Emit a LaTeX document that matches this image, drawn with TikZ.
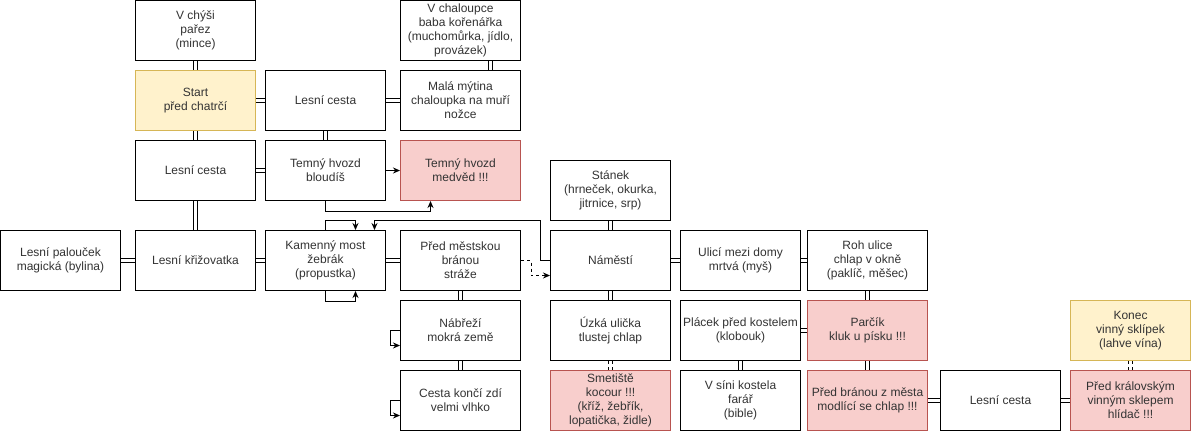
\documentclass[tikz,border=0pt]{standalone}
\usepackage{fontspec}
\setmainfont{Liberation Sans}
\usetikzlibrary{arrows.meta}
\definecolor{yfill}{HTML}{FFF2CC}
\definecolor{ydraw}{HTML}{D6B656}
\definecolor{rfill}{HTML}{F8CECC}
\definecolor{rdraw}{HTML}{B85450}
\definecolor{txt}{HTML}{333333}
\pgfdeclarelayer{background}
\pgfsetlayers{background,main}
\begin{document}
\begin{tikzpicture}[x=1pt,y=-1pt,
  box/.style={draw=black,line width=1pt,rectangle,minimum width=120pt,minimum height=60pt,
    inner sep=0pt,align=center,font=\fontsize{12}{14}\selectfont,text=txt,fill=white},
  startbox/.style={box,fill=yfill,draw=ydraw},
  danger/.style={box,fill=rfill,draw=rdraw},
  link/.style={draw=black,line width=1pt,double=white,double distance=3pt},
  dlink/.style={link,dash pattern=on 3pt off 3pt},
  arr/.style={draw=black,line width=1pt,-{Stealth[length=7pt,width=6pt]}},
]
\useasboundingbox (-0.5,-0.5) rectangle (1190.5,431.5);

% row 0
\node[box] (chysi) at (195,30) {V chýši\\pařez\\(mince)};
\node[box] (chaloupka) at (460,30) {V chaloupce\\baba kořenářka\\(muchomůrka, jídlo,\\provázek)};
% row 1
\node[startbox] (start) at (195,100) {Start\\před chatrčí};
\node[box] (cesta1) at (325,100) {Lesní cesta};
\node[box] (mytina) at (460,100) {Malá mýtina\\chaloupka na muří\\nožce};
% row 2
\node[box] (cesta2) at (195,170) {Lesní cesta};
\node[box] (hvozd) at (325,170) {Temný hvozd\\bloudíš};
\node[danger] (medved) at (460,170) {Temný hvozd\\medvěd !!!};
\node[box] (stanek) at (610,190) {Stánek\\(hrneček, okurka,\\jitrnice, srp)};
% row 3
\node[box] (palou) at (60,260) {Lesní palouček\\magická (bylina)};
\node[box] (krizovatka) at (195,260) {Lesní křižovatka};
\node[box] (most) at (325,260) {Kamenný most\\žebrák\\(propustka)};
\node[box] (brana) at (460,260) {Před městskou\\bránou\\stráže};
\node[box] (namesti) at (610,260) {Náměstí};
\node[box] (ulici) at (740,260) {Ulicí mezi domy\\mrtvá (myš)};
\node[box] (roh) at (867,260) {Roh ulice\\chlap v okně\\(paklíč, měšec)};
% row 4
\node[box] (nabrezi) at (460,330) {Nábřeží\\mokrá země};
\node[box] (ulicka) at (610,330) {Úzká ulička\\tlustej chlap};
\node[box] (placek) at (740,330) {Plácek před kostelem\\(klobouk)};
\node[danger] (parcik) at (867,330) {Parčík\\kluk u písku !!!};
\node[startbox] (konec) at (1130,330) {Konec\\vinný sklípek\\(lahve vína)};
% row 5
\node[box] (zed) at (460,400) {Cesta končí zdí\\velmi vlhko};
\node[danger] (smetiste) at (610,400) {Smetiště\\kocour !!!\\(kříž, žebřík,\\lopatička, židle)};
\node[box] (sini) at (740,400) {V síni kostela\\farář\\(bible)};
\node[danger] (predbranou) at (867,400) {Před bránou z města\\modlící se chlap !!!};
\node[box] (cesta3) at (1000,400) {Lesní cesta};
\node[danger] (kralov) at (1130,400) {Před královským\\vinným sklepem\\hlídač !!!};

\begin{pgfonlayer}{background}
\draw[link] (chysi) -- (start);
\draw[link] (start) -- (cesta1);
\draw[link] (cesta1) -- (mytina);
\draw[link] ([xshift=30pt]chaloupka.south) -- ([xshift=30pt]mytina.north);
\draw[link] (start) -- (cesta2);
\draw[link] (cesta1) -- (hvozd);
\draw[link] (cesta2) -- (hvozd);
\draw[link] (cesta2) -- (krizovatka);
\draw[link] (palou) -- (krizovatka);
\draw[link] (krizovatka) -- (most);
\draw[link] (most) -- (brana);
\draw[link] (brana) -- (nabrezi);
\draw[link] (nabrezi) -- (zed);
\draw[link] (stanek) -- (namesti);
\draw[link] (namesti) -- (ulicka);
\draw[link] (namesti) -- (ulici);
\draw[link] (ulici) -- (roh);
\draw[link] (roh) -- (parcik);
\draw[link] (placek) -- (parcik);
\draw[link] (placek) -- (sini);
\draw[link] (parcik) -- (predbranou);
\draw[link] (predbranou) -- (cesta3);
\draw[link] (cesta3) -- (kralov);
\draw[dlink] (ulicka) -- (smetiste);
\draw[dlink] (konec) -- (kralov);
\end{pgfonlayer}

\draw[arr] (hvozd) -- (medved);
\draw[arr] (hvozd.south) -- ++(0,10) -| ([xshift=-30pt]medved.south);
\draw[arr] (most.north) -- ++(0,-10) -| ([xshift=30pt]most.north);
\draw[arr] (namesti.west) -- ++(-10,0) -- ++(0,-40) -| ([xshift=49pt]most.north);
\draw[arr] (most.south) -- ++(0,10) -| ([xshift=30pt]most.south);
\draw[arr,dash pattern=on 3pt off 3pt] (brana.east) -- ++(10,0) |- ([yshift=-15pt]namesti.west);
\draw[arr] (nabrezi.west) -- ++(-10,0) |- ([yshift=-15pt]nabrezi.west);
\draw[arr] (zed.west) -- ++(-10,0) |- ([yshift=-15pt]zed.west);
\end{tikzpicture}
\end{document}
